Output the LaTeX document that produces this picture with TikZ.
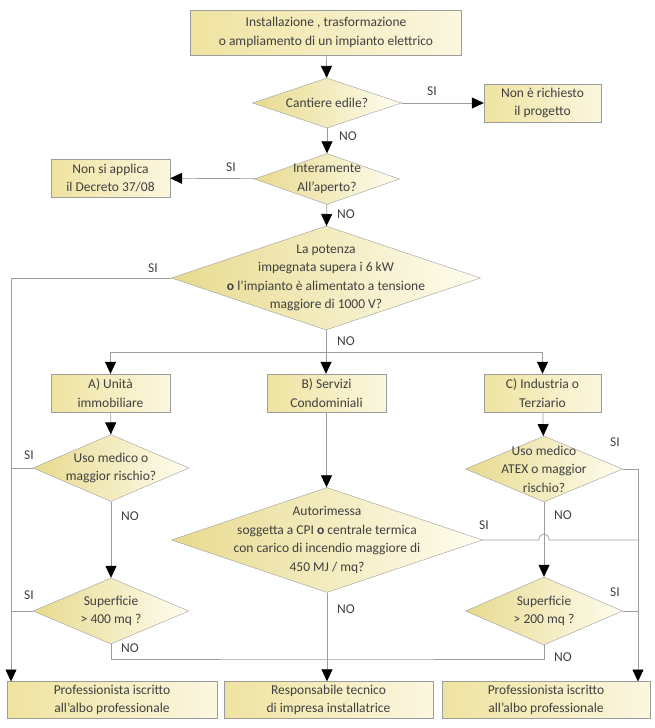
\documentclass[tikz,border=0pt]{standalone}
\usepackage{fontspec}
\setmainfont{Carlito}
\usetikzlibrary{shapes.geometric,arrows.meta}
\definecolor{boxl}{HTML}{EFE3A0}
\definecolor{boxr}{HTML}{FBF7E0}
\definecolor{decl}{HTML}{E7DA8E}
\definecolor{decr}{HTML}{FFFDF0}
\definecolor{edge}{HTML}{9C9C9C}
\definecolor{txt}{HTML}{404040}
\tikzset{
  box/.style={draw=edge, left color=boxl, right color=boxr, inner sep=0pt, align=center, text=txt,
    font=\fontsize{13.5}{18.5}\selectfont},
  decision/.style={diamond, draw=edge, left color=decl, right color=decr, inner sep=0pt},
  dtext/.style={align=center, text=txt, inner sep=0pt, font=\fontsize{13.5}{18.5}\selectfont},
  line/.style={draw=edge, line width=0.7pt},
  arr/.style={line, -{Triangle[width=11pt,length=12pt,color=black]}},
  lbl/.style={text=txt, inner sep=0pt, font=\fontsize{13.5}{16}\selectfont}
}
\begin{document}
\begin{tikzpicture}[x=1pt,y=-1pt]
\useasboundingbox (0,0) rectangle (654,728);

\node[box, minimum width=271pt, minimum height=45pt] (inst) at (326,32.5) {Installazione , trasformazione\\o ampliamento di un impianto elettrico};
\node[decision, minimum width=149pt, minimum height=50pt, label={[dtext]center:Cantiere edile?}] (cant) at (327,103) {};
\node[box, minimum width=117pt, minimum height=38pt] (norich) at (542.5,103) {Non è richiesto\\il progetto};
\node[decision, minimum width=145pt, minimum height=51pt, label={[dtext]center:Interamente\\All’aperto?}] (aperto) at (327,179) {};
\node[box, minimum width=119pt, minimum height=38pt] (nonapp) at (110.5,178) {Non si applica\\il Decreto 37/08};
\node[decision, minimum width=309pt, minimum height=104pt, label={[dtext]center:La potenza\\impegnata supera i 6 kW\\\textbf{o} l’impianto è alimentato a tensione\\maggiore di 1000 V?}] (pot) at (326,278) {};

\node[box, minimum width=119pt, minimum height=38pt] (unita) at (110.5,393) {A) Unità\\immobiliare};
\node[box, minimum width=119pt, minimum height=38pt] (cond) at (326.5,393) {B) Servizi\\Condominiali};
\node[box, minimum width=117pt, minimum height=38pt] (ind) at (542.5,393) {C) Industria o\\Terziario};

\node[decision, minimum width=156pt, minimum height=67pt, label={[dtext]center:Uso medico o\\maggior rischio?}] (usoa) at (111,468) {};
\node[decision, minimum width=156pt, minimum height=66pt, label={[dtext]center:Superficie\\> 400 mq ?}] (supa) at (111,611) {};
\node[decision, minimum width=311pt, minimum height=105pt, label={[dtext]center:Autorimessa\\soggetta a CPI \textbf{o} centrale termica\\con carico di incendio maggiore di\\450 MJ / mq?}] (autor) at (327,540) {};
\node[decision, minimum width=157pt, minimum height=66pt, label={[dtext]center:Uso medico\\ATEX o maggior\\rischio?}] (usoc) at (544,469) {};
\node[decision, minimum width=157pt, minimum height=68pt, label={[dtext]center:Superficie\\> 200 mq ?}] (supc) at (544,611) {};

\node[box, minimum width=210pt, minimum height=37pt] (profa) at (112,700) {Professionista iscritto\\all’albo professionale};
\node[box, minimum width=209pt, minimum height=37pt] (resp) at (328.5,700) {Responsabile tecnico\\di impresa installatrice};
\node[box, minimum width=208pt, minimum height=37pt] (profc) at (546,700) {Professionista iscritto\\all’albo professionale};

\coordinate (lx) at (11,681.5);
\coordinate (rx) at (638,681.5);
\coordinate (split) at (326,352);
\coordinate (join) at (327,659);

\draw[arr] (inst) -- (cant);
\draw[arr] (cant) -- (norich);
\draw[arr] (cant) -- (aperto);
\draw[arr] (aperto) -- (nonapp);
\draw[arr] (aperto) -- (pot);
\draw[arr] (pot.west) -| (lx);
\draw[line] (pot.south) -- (split);
\draw[arr] (split) -| (unita.north);
\draw[arr] (split) -- (split |- cond.north);
\draw[arr] (split) -| (ind.north);

\draw[arr] (unita) -- (usoa);
\draw[line] (usoa.west) -- (usoa.west -| lx);
\draw[arr] (usoa) -- (supa);
\draw[line] (supa.west) -- (supa.west -| lx);
\draw[line] (supa.south) |- (join) -| (supc.south);

\draw[arr] (cond) -- (cond.south |- autor.north);
\draw[arr] (autor.south) -- (autor.south |- resp.north);
\draw[line] (autor.east) -- (539,540) .. controls (539,532) and (549,532) .. (549,540) -- (autor.east -| rx);

\draw[arr] (ind) -- (usoc);
\draw[arr] (usoc.east) -| (rx);
\draw[arr] (usoc) -- (supc);
\draw[line] (supc.east) -- (supc.east -| rx);

\node[lbl] (si1) at (432,91) {SI};
\node[lbl] (no1) at (348,136) {NO};
\node[lbl] (si2) at (231,167) {SI};
\node[lbl] (no2) at (346,214) {NO};
\node[lbl] (si3) at (153,268) {SI};
\node[lbl] (no3) at (346,341) {NO};
\node[lbl] (si4) at (29,455) {SI};
\node[lbl] (no4) at (130,516) {NO};
\node[lbl] (si5) at (29,595) {SI};
\node[lbl] (no5) at (130,648) {NO};
\node[lbl] (si6) at (484,525) {SI};
\node[lbl] (no6) at (346,609) {NO};
\node[lbl] (si7) at (615,442) {SI};
\node[lbl] (no7) at (563,515) {NO};
\node[lbl] (si8) at (615,592) {SI};
\node[lbl] (no8) at (563,657) {NO};
\end{tikzpicture}
\end{document}
